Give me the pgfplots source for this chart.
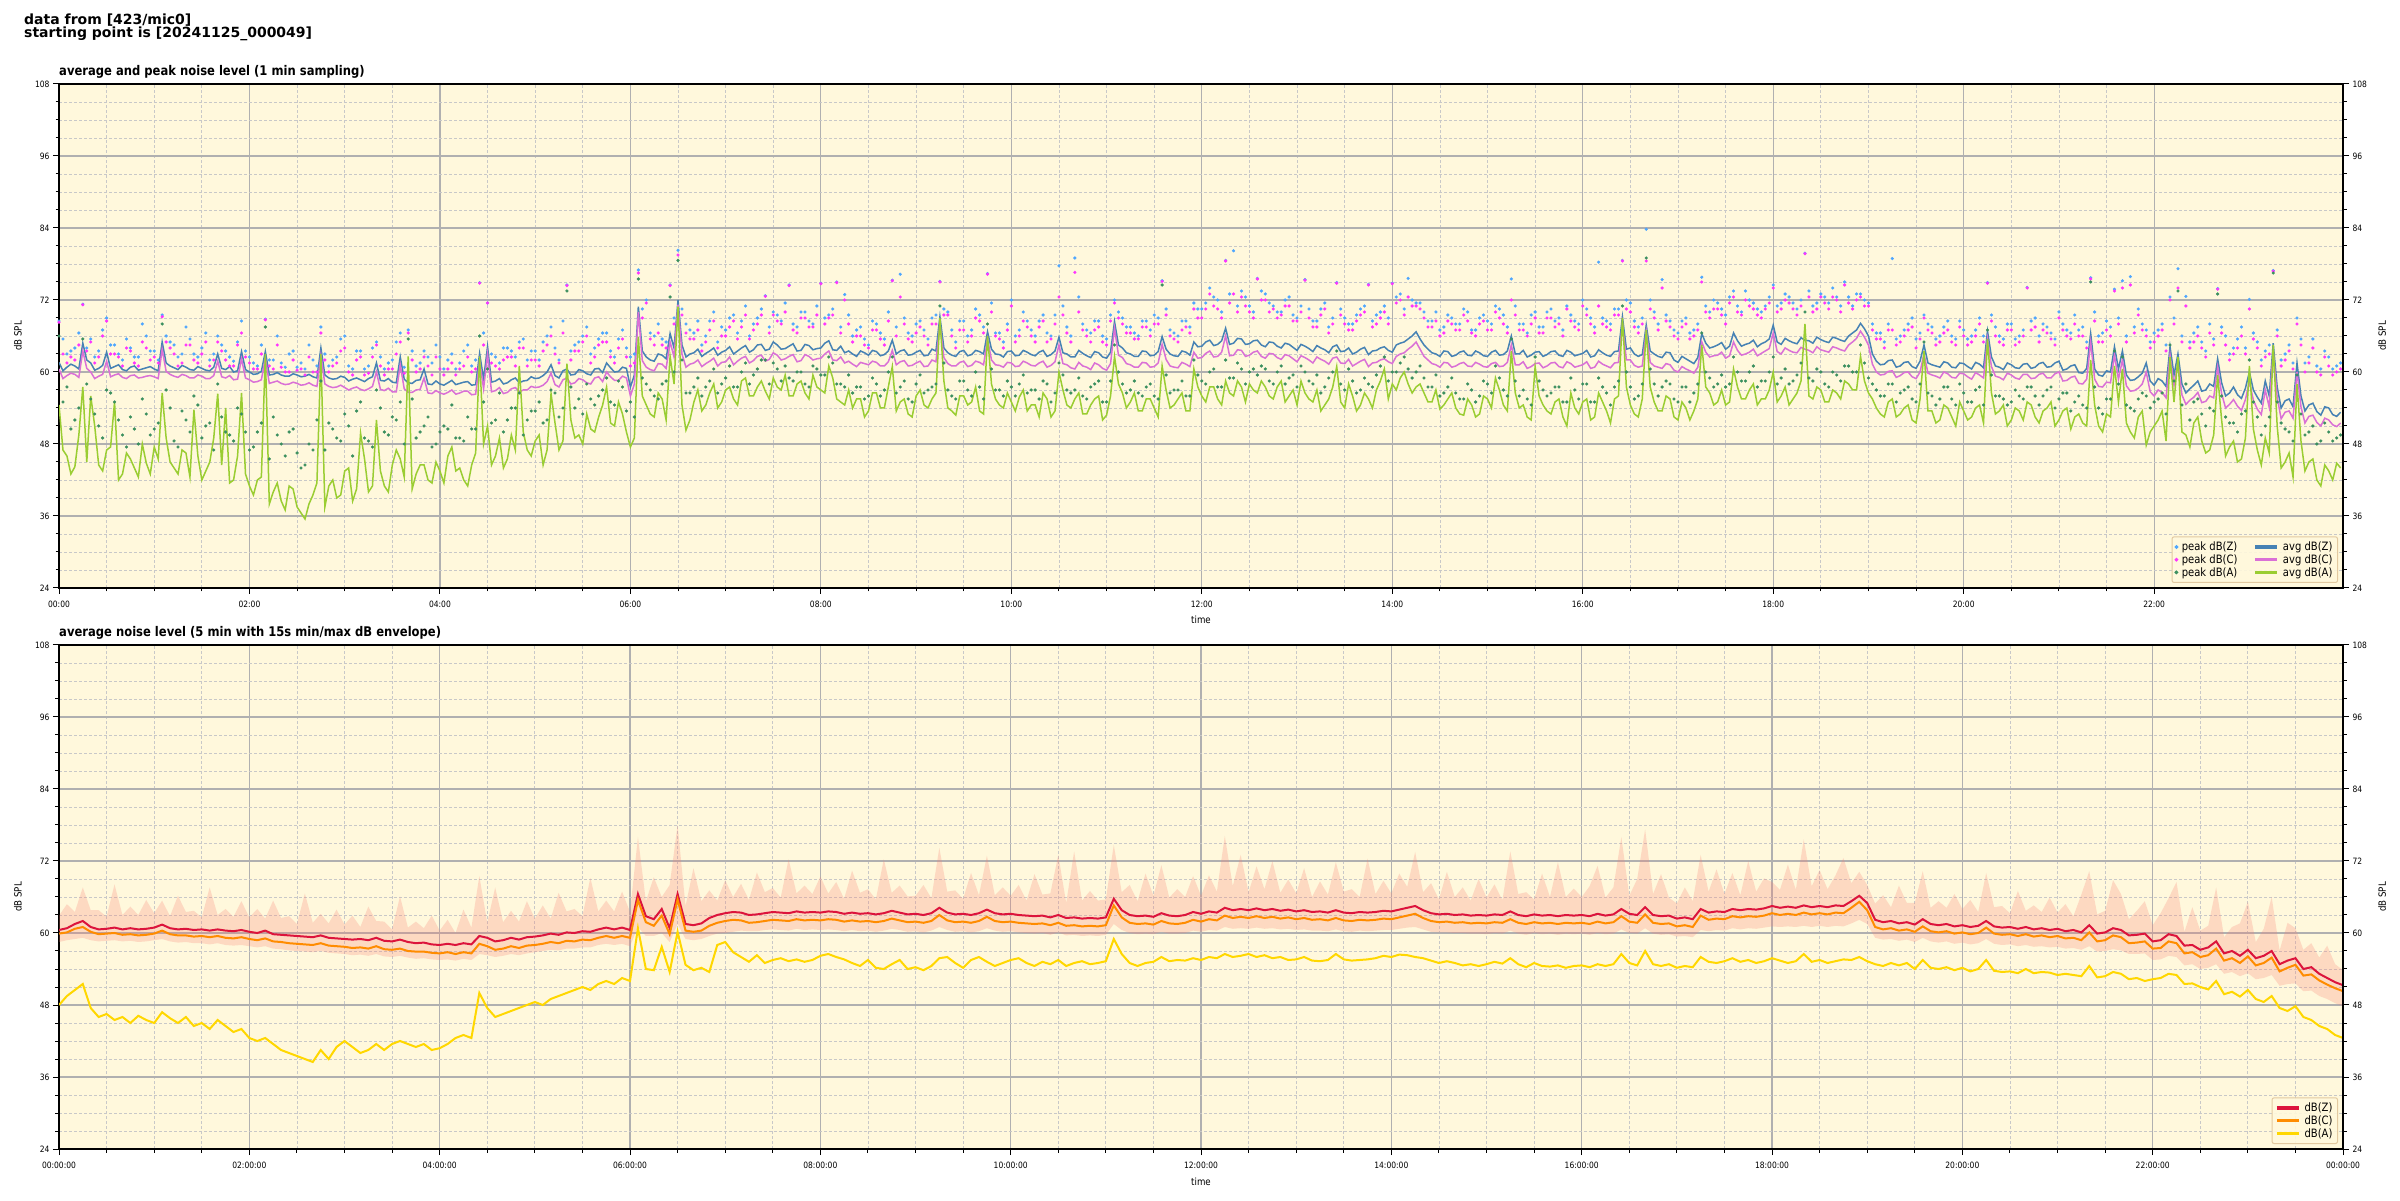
\documentclass[border=0pt]{standalone}
\usepackage{fontspec}
\setmainfont{DejaVu Sans}[FakeStretch=0.87]
\newfontfamily\hdrfont{DejaVu Sans}
\usepackage{pgfplots}
\usepackage{pgfplotstable}
\pgfplotsset{compat=1.18}

\definecolor{bgc}{HTML}{FFF8DC}
\definecolor{zline}{HTML}{4682B4}
\definecolor{cline}{HTML}{DA70D6}
\definecolor{aline}{HTML}{9ACD32}
\definecolor{zdot}{HTML}{4DA6FF}
\definecolor{cdot}{HTML}{FF33FF}
\definecolor{adot}{HTML}{3A8F5E}
\definecolor{zred}{HTML}{DC143C}
\definecolor{corange}{HTML}{FF8C00}
\definecolor{agold}{HTML}{FFD700}
\definecolor{env}{HTML}{FA8072}
\definecolor{majgrid}{HTML}{B0B0B0}
\definecolor{mingrid}{HTML}{C8C8C8}
\definecolor{legedge}{HTML}{E2C9A0}

\newcommand{\fs}[1]{\fontsize{#1}{#1}\selectfont}

\pgfplotstableread{
m Z C A pZ pC pA
0 61.6 60.5 54.5 68.5 68.3 66
5 60.8 59.4 46.0 63.0 61.5 57.5
10 61.0 59.6 44.2 64.0 62.0 52.0
15 64.8 63.5 57.5 71.3 71.2 65.5
20 61.5 60.0 56.0 65.5 65.0 55.5
25 60.6 59.3 44.5 63.5 62.5 51.0
30 63.3 61.8 47.0 69.0 68.5 57.0
35 60.9 59.5 55.0 64.5 63.0 55.0
40 60.4 59.1 43.0 62.0 61.0 49.5
45 60.8 59.4 45.5 64.0 63.5 52.5
50 60.3 59.0 42.5 62.5 61.0 48.0
55 60.7 59.3 44.8 66.0 64.0 53.0
60 60.5 59.2 47.5 63.5 62.5 50.5
65 65.0 63.8 56.5 69.5 69.2 68.0
70 61.0 59.6 45.0 65.0 64.0 54.0
75 60.4 59.1 43.0 62.5 61.0 47.5
80 60.8 59.4 46.5 67.5 64.5 52.0
85 60.3 59.0 53.7 63.0 62.0 56.0
90 60.6 59.3 42.0 64.0 63.0 49.0
95 60.2 58.9 45.0 62.0 61.0 51.5
100 63.0 61.8 56.4 66.0 65.0 58.0
105 60.4 59.0 54.0 63.5 62.0 50.0
110 60.0 58.7 42.0 61.8 61.0 48.5
115 63.4 62.2 56.5 68.5 66.5 53.0
120 60.0 58.7 41.0 62.5 61.5 47.0
125 59.7 58.4 42.0 61.0 60.5 50.0
130 63.4 62.3 63.0 68.8 68.7 67.5
135 59.6 58.3 40.0 62.0 60.5 52.5
140 59.5 58.1 38.5 61.5 60.8 48.0
145 59.3 58.0 41.0 63.0 60.0 50.0
150 59.5 58.1 37.5 60.8 60.3 46.5
155 59.3 57.9 35.5 60.5 59.5 44.5
160 59.2 57.8 39.5 62.0 60.0 47.0
165 64.0 62.8 63.0 67.5 66.5 58.5
170 59.0 57.6 41.0 61.0 60.0 51.5
175 58.9 57.5 39.0 62.5 61.5 49.0
180 59.1 57.4 43.5 66.0 64.0 53.0
185 58.8 57.3 38.5 60.5 59.5 46.0
190 58.7 57.1 49.8 63.5 62.5 55.0
195 58.9 57.2 40.0 61.0 59.8 48.5
200 61.5 60.0 52.0 65.0 64.5 57.0
205 58.5 56.9 41.0 60.5 59.5 50.0
210 58.3 56.7 44.5 62.0 60.5 52.5
215 62.5 61.2 45.5 66.5 65.0 55.0
220 58.2 56.6 62.6 67.0 66.5 65.5
225 58.6 57.0 43.0 61.0 60.0 49.0
230 60.5 59.0 44.5 63.5 62.5 51.0
235 57.9 56.4 41.5 61.5 59.5 47.5
240 58.0 56.5 43.5 62.5 60.5 50.0
245 58.2 56.6 46.0 62.0 60.5 50.5
250 57.9 56.3 43.5 60.5 59.5 49.0
255 58.3 56.8 42.0 63.5 61.0 48.5
260 57.8 56.2 44.5 61.0 60.0 50.5
265 63.1 61.8 62.6 74.9 74.8 66.0
270 64.2 63.0 51.0 71.5 71.5 60.5
275 58.5 56.9 46.0 62.5 61.0 52.0
280 58.0 56.4 44.0 64.0 62.0 50.0
285 58.7 57.2 49.5 63.5 62.5 54.0
290 58.2 56.7 61.0 65.0 64.0 56.5
295 58.6 57.0 47.0 62.0 61.0 52.0
300 58.9 57.4 48.5 63.5 62.0 53.5
305 59.4 57.8 44.5 65.0 63.5 51.5
310 61.2 59.8 56.4 67.5 66.0 57.0
315 59.0 57.5 47.0 62.0 61.5 52.5
320 60.5 59.0 61.4 74.5 74.4 73.5
325 59.6 58.2 49.0 64.5 63.5 54.0
330 60.2 58.7 48.0 66.0 65.0 53.0
335 59.5 58.0 50.5 63.0 61.5 55.5
340 60.6 59.2 52.5 65.5 64.5 56.0
345 61.5 60.0 57.5 66.5 65.0 59.0
350 60.0 58.6 51.0 62.5 61.5 54.5
355 60.8 59.3 53.0 67.0 65.5 57.5
360 57.5 56.0 47.5 62.5 61.0 55.0
365 70.9 70.0 65.9 77.0 76.5 75.5
370 62.5 60.8 54.5 72.0 71.5 58.0
375 61.8 60.2 52.5 66.0 64.5 56.0
380 62.8 61.3 55.5 65.5 64.5 58.0
385 66.4 65.0 62.6 74.5 74.4 72.5
390 72.0 71.2 70.9 80.3 79.5 78.6
395 62.5 60.8 50.3 68.0 66.5 56.5
400 63.2 61.5 55.0 66.5 65.5 57.5
405 62.6 60.9 53.5 64.5 63.5 56.0
410 63.5 61.8 56.5 68.5 67.0 58.5
415 62.8 61.0 54.0 65.0 64.0 56.5
420 63.6 61.7 57.0 67.0 66.0 59.0
425 63.0 61.2 55.5 69.5 68.5 57.5
430 64.0 62.3 58.5 68.5 67.5 60.0
435 63.3 61.5 56.0 66.0 65.5 58.0
440 64.5 62.6 57.5 69.0 68.0 60.5
445 63.6 61.8 56.8 72.7 72.6 62.0
450 65.0 63.2 59.0 70.0 69.5 61.5
455 63.8 62.0 57.0 68.5 68.0 58.5
460 64.3 62.6 56.0 74.5 74.4 59.0
465 63.5 61.7 58.0 67.5 66.5 60.0
470 64.6 62.9 56.5 70.0 69.0 58.0
475 63.7 62.0 59.5 68.0 67.5 61.0
480 64.0 62.3 57.0 74.8 74.7 59.5
485 65.2 63.5 61.0 69.5 69.0 62.5
490 63.6 61.9 55.5 75.0 74.9 58.0
495 63.2 61.5 54.5 72.9 72.0 57.5
500 63.0 61.3 54.0 66.0 65.0 56.5
505 63.5 61.6 55.5 67.5 66.0 57.5
510 62.8 61.2 53.5 64.5 64.0 56.0
515 63.4 61.6 56.5 68.0 67.0 58.0
520 62.9 61.0 54.0 65.5 64.5 57.0
525 65.3 63.6 60.9 75.3 75.2 62.5
530 63.5 61.7 55.0 76.3 72.5 57.5
535 62.8 61.0 53.0 66.5 65.5 55.5
540 63.3 61.5 56.0 68.0 66.5 58.0
545 62.7 60.9 54.5 67.0 66.0 56.5
550 63.8 62.0 55.5 69.0 68.0 57.5
555 69.2 68.0 69.0 75.1 75.0 71.0
560 63.2 61.4 54.0 70.0 69.5 57.0
565 62.6 61.0 52.8 65.0 64.0 55.5
570 63.6 61.8 56.0 68.5 67.0 58.5
575 62.9 61.1 55.0 67.0 66.0 56.0
580 63.4 61.6 53.5 69.5 68.5 57.5
585 66.7 65.5 66.0 76.4 76.3 68.0
590 63.0 61.2 55.5 66.5 66.0 57.0
595 62.5 60.8 54.0 65.0 64.0 56.0
600 63.5 61.5 55.0 72.0 71.0 57.5
605 62.8 61.0 55.8 67.0 66.0 58.0
610 63.3 61.5 53.5 68.5 67.5 56.5
615 62.7 61.0 54.5 66.0 65.0 57.0
620 63.6 61.8 56.5 69.5 68.5 58.5
625 62.9 61.1 52.5 66.0 65.5 55.0
630 65.8 64.5 60.0 77.7 72.5 61.5
635 63.0 61.2 54.5 67.5 66.5 57.0
640 62.5 60.5 55.5 79.0 76.6 57.0
645 63.1 61.0 53.0 68.0 67.0 56.0
650 62.4 60.4 54.5 66.5 65.0 57.5
655 63.2 61.2 56.0 68.5 67.5 58.5
660 62.3 60.3 52.8 65.5 64.5 55.0
665 68.4 67.3 62.6 72.0 71.5 64.5
670 64.0 62.4 56.5 69.0 68.0 58.0
675 63.0 61.2 55.0 67.5 66.5 57.0
680 62.6 60.8 53.5 66.0 65.5 56.5
685 63.4 61.5 55.5 68.5 67.5 57.5
690 62.8 60.9 54.0 69.5 68.0 56.0
695 65.9 64.6 61.0 75.2 75.1 74.5
700 63.0 61.0 54.0 67.0 66.0 56.5
705 62.6 60.7 55.5 66.0 65.0 57.0
710 63.3 61.3 53.5 68.5 67.5 56.0
715 65.0 63.3 60.5 71.5 70.5 62.0
720 64.3 62.4 56.0 70.5 69.0 58.5
725 65.3 63.5 57.5 74.0 73.0 60.0
730 64.6 62.6 55.5 72.0 70.5 57.5
735 67.3 66.0 58.5 78.6 78.5 62.0
740 64.8 62.8 56.0 80.2 73.0 59.0
745 65.5 63.6 57.5 73.5 72.5 60.5
750 64.7 62.8 58.0 71.0 70.0 60.0
755 65.3 63.5 56.5 75.6 75.5 59.5
760 64.2 62.3 57.5 73.0 72.0 60.5
765 64.9 63.0 55.5 71.0 70.5 58.0
770 64.0 62.1 58.5 70.0 69.5 61.0
775 64.6 62.7 56.0 72.5 71.0 59.0
780 63.6 61.7 54.5 69.0 68.5 57.5
785 64.3 62.4 56.5 75.4 75.3 60.0
790 63.4 61.5 55.0 68.5 67.5 58.0
795 64.0 62.1 53.5 70.5 69.5 56.5
800 63.2 61.3 55.5 67.5 66.5 59.0
805 64.5 62.5 60.9 74.9 74.8 63.5
810 63.5 61.4 54.0 69.0 68.0 57.0
815 63.0 61.0 56.0 68.0 67.0 58.5
820 63.8 61.8 54.5 70.5 69.5 57.0
825 62.9 60.9 55.5 74.6 74.5 58.0
830 63.6 61.6 57.0 69.5 68.0 59.5
835 64.2 62.2 60.5 71.0 70.0 62.5
840 63.3 61.4 58.0 74.8 74.7 60.0
845 64.8 63.0 59.0 73.0 72.0 61.5
850 65.5 63.8 58.0 75.6 72.5 60.5
855 66.7 65.0 57.5 71.5 71.0 60.0
860 64.5 62.6 56.5 70.0 69.0 59.0
865 63.2 61.4 55.0 68.5 67.5 57.5
870 62.6 60.8 53.8 67.0 66.0 56.0
875 63.4 61.5 55.5 69.5 68.5 57.5
880 62.8 61.0 54.0 68.0 67.0 56.5
885 63.5 61.6 52.8 70.5 69.5 55.5
890 62.7 60.9 54.5 67.0 66.5 57.0
895 63.2 61.3 53.0 69.0 68.0 56.0
900 62.6 60.8 55.5 68.5 67.0 58.0
905 63.6 61.6 59.0 71.0 70.0 61.0
910 62.9 61.0 54.5 69.5 68.0 57.0
915 66.0 64.5 63.5 75.5 72.0 65.5
920 63.0 61.2 54.0 68.0 67.0 56.0
925 62.5 60.6 52.5 66.5 66.0 55.5
930 63.3 61.4 60.9 70.0 69.0 62.5
935 62.6 60.7 54.5 67.5 66.5 57.0
940 63.4 61.5 53.0 70.5 69.0 56.5
945 62.8 60.9 55.5 69.0 68.0 57.5
950 63.6 61.7 51.0 71.0 70.5 55.0
955 62.7 60.8 54.0 68.5 67.5 57.0
960 63.1 61.2 55.0 72.0 71.0 58.0
965 62.5 60.6 52.0 69.0 68.0 55.0
970 63.7 61.8 56.5 78.3 71.0 59.0
975 62.8 61.0 53.5 68.5 67.5 56.5
980 63.4 61.5 55.5 70.5 69.5 57.5
985 69.2 68.0 69.0 78.6 78.5 71.0
990 64.0 62.0 54.5 71.5 70.0 57.5
995 62.6 60.8 52.5 67.5 66.5 56.0
1000 67.8 66.8 67.0 83.8 78.5 79.0
1005 63.0 61.0 55.0 70.0 69.0 58.0
1010 62.4 60.6 53.5 75.4 74.0 57.5
1015 63.2 61.2 55.5 68.5 67.5 58.0
1020 61.6 60.0 52.0 66.5 65.5 55.0
1025 62.2 60.5 54.0 69.0 68.0 57.5
1030 61.4 59.8 53.5 67.0 66.0 56.5
1035 66.4 65.0 64.5 75.8 75.0 66.5
1040 64.0 62.5 56.5 70.0 69.0 59.0
1045 64.5 62.8 55.0 71.5 70.5 58.0
1050 63.8 62.3 54.5 69.5 68.0 57.5
1055 66.5 65.0 60.5 73.5 72.5 62.5
1060 64.3 62.8 55.5 70.0 69.5 58.5
1065 64.8 63.3 57.0 72.0 71.0 60.0
1070 64.2 62.7 54.5 70.5 69.5 57.5
1075 65.0 63.5 55.5 71.0 70.5 58.5
1080 67.8 66.5 60.0 74.5 74.0 62.5
1085 64.6 63.0 56.0 71.5 70.5 59.0
1090 65.2 63.6 54.5 72.5 71.5 58.0
1095 64.7 63.2 56.5 70.5 69.5 59.5
1100 65.3 63.8 68.0 79.8 79.7 70.0
1105 64.8 63.2 55.5 71.0 70.0 58.5
1110 65.4 63.7 57.0 73.0 72.5 60.0
1115 64.9 63.3 55.0 71.5 70.5 57.5
1120 65.6 64.0 56.5 72.5 72.0 59.5
1125 65.1 63.5 58.5 75.0 74.5 61.0
1130 66.5 65.0 57.0 71.0 70.5 60.0
1135 68.1 66.8 62.6 73.0 72.5 64.5
1140 66.0 64.5 56.5 71.5 71.0 59.0
1145 61.8 60.0 54.0 66.5 65.5 57.0
1150 61.3 59.6 52.5 65.0 64.0 56.0
1155 62.0 60.2 55.5 78.9 67.0 58.0
1160 61.0 59.4 53.0 66.0 65.0 56.5
1165 61.7 60.0 54.5 68.0 67.0 57.5
1170 60.6 58.9 51.5 65.5 64.0 55.0
1175 64.5 63.0 63.5 69.5 69.0 65.0
1180 61.2 59.5 53.5 67.5 66.5 56.0
1185 60.8 59.0 52.0 66.0 65.0 55.5
1190 61.5 59.7 54.0 68.5 67.0 57.5
1195 60.7 59.0 51.0 65.5 64.5 54.5
1200 61.4 59.7 53.5 67.0 66.0 56.5
1205 60.5 58.8 52.5 66.0 65.0 55.0
1210 61.3 59.5 54.5 69.0 68.0 57.5
1215 66.8 65.5 65.5 74.9 74.8 67.0
1220 61.0 59.3 53.0 67.5 66.0 56.0
1225 60.4 58.7 54.5 65.5 64.5 55.5
1230 61.2 59.5 52.0 68.0 67.0 55.0
1235 60.6 58.8 53.5 66.0 65.0 56.0
1240 61.4 59.6 55.0 74.1 74.0 57.5
1245 60.8 59.0 52.5 69.0 67.5 56.0
1250 61.6 59.8 53.5 68.0 67.0 56.0
1255 60.9 59.0 55.0 66.5 65.5 57.5
1260 61.8 60.0 52.0 70.0 69.0 55.5
1265 60.5 58.6 54.0 67.0 66.0 56.5
1270 61.2 59.3 52.5 69.5 68.0 55.0
1275 59.8 58.0 51.5 67.5 66.0 54.5
1280 66.4 65.0 62.0 75.7 75.5 75.0
1285 59.5 57.6 51.0 66.0 65.0 54.0
1290 60.2 58.3 53.0 68.5 67.0 55.5
1295 64.2 62.8 61.0 73.8 73.5 63.5
1300 63.5 62.0 60.5 75.2 74.0 62.5
1305 58.6 56.8 50.0 75.9 74.5 54.0
1310 59.2 57.3 52.5 70.5 69.5 55.5
1315 61.5 60.0 47.8 67.0 66.0 56.0
1320 57.8 56.0 51.0 66.5 65.0 55.0
1325 58.5 56.6 53.5 68.0 67.0 56.5
1330 64.2 62.8 62.5 72.5 72.0 64.5
1335 63.0 61.5 62.5 77.2 74.0 73.5
1340 56.5 54.6 49.5 72.6 71.0 58.0
1345 57.8 55.8 51.5 66.5 65.0 55.0
1350 56.8 54.9 48.5 65.0 64.0 53.0
1355 58.0 56.0 47.0 68.0 66.5 54.0
1360 62.2 60.8 59.5 73.9 73.8 73.0
1365 56.0 54.0 46.0 66.0 64.5 52.5
1370 57.5 55.4 48.5 64.0 63.0 51.5
1375 55.6 53.6 45.5 67.5 66.0 53.0
1380 60.0 58.4 61.0 72.1 70.5 62.0
1385 55.8 53.8 47.0 65.0 64.0 52.5
1390 58.5 57.0 49.0 63.5 62.5 51.0
1395 64.8 63.5 64.5 76.9 76.8 76.5
1400 54.0 52.2 44.0 62.0 61.0 51.5
1405 55.5 53.5 46.5 64.5 63.5 50.0
1410 61.5 60.0 58.0 69.0 68.0 59.5
1415 53.5 51.5 43.5 61.5 60.0 49.5
1420 54.8 52.8 45.5 65.5 64.0 51.0
1425 52.8 51.0 41.0 60.5 59.5 48.5
1430 54.0 52.0 43.5 62.5 61.0 50.0
1435 52.6 50.9 44.8 61.0 60.0 49.0
}\toptab

\pgfplotstableread{
m Z C A pZ pC pA
2.5 60.2 58.9 47.0 65.5 63.0 55.0
7.5 61.3 59.8 43.0 63.5 62.5 50.5
12.5 60.5 59.1 49.5 66.5 64.5 54.0
17.5 62.0 60.6 45.0 64.0 63.5 58.0
22.5 60.3 58.9 51.0 62.5 61.5 53.0
27.5 61.1 59.6 43.5 67.0 66.0 49.0
32.5 60.6 59.2 47.5 64.5 63.0 56.5
37.5 61.2 59.7 42.0 63.0 62.5 52.0
42.5 60.2 58.9 46.5 65.5 64.0 47.5
47.5 61.0 59.5 44.0 62.5 61.5 50.5
52.5 60.5 59.1 48.0 68.0 65.0 55.5
57.5 60.9 59.4 43.0 63.5 62.0 49.5
62.5 60.2 58.9 45.5 62.0 61.5 51.5
67.5 61.5 60.1 49.0 66.0 65.0 57.0
72.5 60.7 59.3 44.0 64.5 63.0 48.5
77.5 61.1 59.6 47.0 63.0 61.5 53.5
82.5 60.4 59.0 42.5 65.5 64.5 50.0
87.5 60.9 59.5 46.0 62.5 61.5 54.5
92.5 60.3 58.9 43.5 66.5 65.0 51.0
97.5 60.8 59.4 49.0 63.0 62.0 47.0
102.5 60.6 59.2 44.5 64.5 63.5 52.5
107.5 60.9 59.4 41.5 62.5 61.0 49.5
112.5 60.2 58.8 46.0 65.0 64.5 54.0
117.5 60.4 59.0 43.0 63.5 62.5 50.0
122.5 59.6 58.3 39.5 61.5 60.5 47.5
127.5 60.1 58.7 42.5 64.5 63.0 51.5
132.5 59.5 58.1 38.0 62.0 61.0 45.5
137.5 59.9 58.5 41.5 66.0 64.5 49.5
142.5 59.3 57.9 37.0 60.8 60.0 46.0
147.5 59.7 58.3 40.5 63.5 62.0 50.5
152.5 59.2 57.8 36.5 61.5 60.5 44.0
157.5 59.6 58.2 38.0 64.5 62.5 48.0
162.5 59.0 57.6 41.5 61.0 60.0 52.0
167.5 59.5 58.0 37.5 63.0 62.0 47.0
172.5 58.8 57.4 42.0 62.0 61.0 50.5
177.5 59.3 57.8 39.5 65.5 63.5 48.5
182.5 58.5 57.0 44.0 61.0 60.0 51.0
187.5 59.0 57.5 40.5 63.5 62.0 53.5
192.5 58.4 56.9 45.5 60.5 59.5 49.0
197.5 59.2 57.6 41.0 64.0 62.5 47.5
202.5 58.6 57.1 43.5 62.5 61.0 54.0
207.5 58.9 57.3 40.0 61.5 60.5 49.5
212.5 58.2 56.7 47.0 65.0 63.0 52.0
217.5 58.8 57.2 42.5 60.8 59.8 48.0
222.5 58.1 56.6 40.5 63.5 62.0 55.5
227.5 58.7 57.1 44.5 61.5 60.5 50.0
232.5 58.0 56.5 42.0 62.5 61.0 52.5
237.5 58.5 56.9 45.0 64.5 62.5 48.0
242.5 57.8 56.3 41.5 60.5 59.5 51.0
247.5 58.6 57.0 47.5 63.0 61.5 54.5
252.5 58.1 56.5 44.0 61.5 60.5 49.0
257.5 58.4 56.8 41.0 64.5 62.5 52.5
262.5 57.9 56.3 46.5 62.0 60.5 50.5
267.5 58.8 57.2 48.0 66.5 64.5 55.0
272.5 58.3 56.7 44.5 63.0 61.5 51.5
277.5 58.9 57.4 49.0 61.5 60.5 56.5
282.5 58.2 56.6 45.5 64.0 62.5 52.0
287.5 59.0 57.4 47.0 62.5 61.0 54.0
292.5 58.5 57.0 50.0 65.5 64.0 49.5
297.5 59.2 57.6 46.0 63.5 62.0 53.5
302.5 59.0 57.5 49.5 62.0 61.0 55.0
307.5 60.0 58.4 47.0 66.0 64.5 52.0
312.5 59.4 57.9 51.5 64.0 63.0 56.5
317.5 60.2 58.7 48.5 68.5 66.5 54.0
322.5 59.5 58.0 52.0 63.5 62.0 57.5
327.5 60.4 58.9 49.5 65.0 63.5 55.5
332.5 59.7 58.2 53.0 67.5 66.0 58.0
337.5 60.5 59.0 50.0 64.0 62.5 54.5
342.5 59.9 58.4 54.5 66.5 65.0 57.0
347.5 60.7 59.2 51.5 63.5 62.5 55.0
352.5 60.1 58.6 55.0 65.5 64.0 58.5
357.5 60.6 59.0 50.0 64.0 62.5 53.5
362.5 59.5 58.0 49.0 63.0 61.5 52.5
367.5 63.5 61.9 56.0 70.5 69.0 59.0
372.5 62.0 60.4 53.0 66.5 65.5 57.0
377.5 63.0 61.4 56.5 68.0 66.5 55.5
382.5 62.2 60.6 52.0 65.0 64.0 58.5
387.5 64.0 62.5 58.0 69.0 68.0 60.0
392.5 64.5 63.0 54.5 70.5 69.5 62.0
397.5 63.0 61.3 52.0 67.0 65.5 56.5
402.5 63.8 62.0 57.0 68.5 67.0 59.0
407.5 63.1 61.4 54.5 66.0 65.0 57.5
412.5 64.0 62.3 58.0 70.0 68.5 60.5
417.5 63.3 61.6 55.0 67.5 66.0 58.0
422.5 64.2 62.5 57.5 69.0 67.5 61.0
427.5 63.5 61.8 54.5 66.5 65.5 57.5
432.5 64.4 62.6 59.0 71.0 69.5 61.5
437.5 63.7 61.9 56.0 68.0 67.0 59.5
442.5 64.6 62.8 58.5 70.5 69.5 62.0
447.5 63.8 62.1 55.5 67.5 66.5 58.0
452.5 64.5 62.8 57.5 69.5 68.5 60.5
457.5 63.9 62.2 59.5 71.5 70.0 61.0
462.5 64.7 62.9 56.0 68.0 67.0 58.5
467.5 63.6 61.9 58.5 70.0 69.0 60.0
472.5 64.4 62.6 55.5 68.5 67.5 57.5
477.5 63.9 62.2 57.5 71.0 69.5 60.5
482.5 64.8 63.0 56.5 69.0 68.0 59.5
487.5 63.7 62.0 59.0 70.5 69.5 61.5
492.5 64.3 62.5 55.0 67.5 66.5 58.0
497.5 63.5 61.8 57.0 69.5 68.0 59.5
502.5 62.6 60.9 55.5 67.0 66.0 57.5
507.5 63.2 61.4 52.5 65.5 64.5 55.5
512.5 63.6 61.8 56.5 68.5 67.0 59.0
517.5 62.7 61.0 54.0 66.5 65.5 56.0
522.5 63.5 61.7 57.5 70.0 68.5 60.0
527.5 63.0 61.2 53.5 67.5 66.0 56.5
532.5 63.7 61.9 55.5 69.0 68.0 58.5
537.5 62.9 61.1 52.5 66.0 65.0 55.0
542.5 63.6 61.8 57.0 68.5 67.5 59.5
547.5 62.8 61.0 54.0 65.5 64.5 57.0
552.5 63.5 61.7 56.5 69.5 68.0 58.0
557.5 64.0 62.4 58.5 70.5 69.5 61.5
562.5 62.8 61.0 53.5 67.0 66.0 56.0
567.5 63.4 61.6 56.0 68.5 67.0 58.5
572.5 62.7 60.9 54.5 66.0 65.0 57.0
577.5 63.6 61.8 57.5 70.5 69.0 60.0
582.5 63.0 61.2 53.0 67.5 66.5 55.5
587.5 63.8 62.0 58.0 71.5 70.0 60.5
592.5 62.9 61.1 54.5 66.5 65.5 57.0
597.5 63.4 61.6 56.5 68.0 67.0 58.5
602.5 62.7 60.9 53.5 66.0 65.0 56.0
607.5 63.6 61.8 57.0 70.0 68.5 59.5
612.5 62.9 61.1 54.5 67.0 66.0 57.0
617.5 63.3 61.5 52.5 68.5 67.5 55.5
622.5 62.6 60.8 55.5 66.5 65.0 58.0
627.5 63.5 61.7 53.5 69.5 68.0 56.5
632.5 63.2 61.4 57.0 71.0 69.5 59.5
637.5 62.5 60.7 54.0 66.0 65.0 56.5
642.5 63.6 61.6 56.5 72.5 70.0 59.0
647.5 62.7 60.8 53.0 67.0 66.0 55.5
652.5 63.4 61.5 55.5 68.5 67.0 58.0
657.5 62.5 60.6 52.0 66.0 65.0 55.0
662.5 63.3 61.4 56.0 69.5 68.5 58.5
667.5 64.5 62.8 58.0 70.0 69.0 60.0
672.5 63.2 61.4 54.0 67.5 66.5 56.5
677.5 62.6 60.8 56.5 66.5 65.5 58.5
682.5 63.5 61.6 53.5 68.5 67.5 56.0
687.5 62.7 60.8 55.5 67.0 66.0 58.0
692.5 63.4 61.5 52.5 69.0 68.0 55.5
697.5 63.8 62.1 57.0 70.5 69.5 59.5
702.5 62.7 60.8 54.5 66.5 65.5 57.0
707.5 63.5 61.6 56.5 68.5 67.0 58.5
712.5 62.8 60.9 53.5 67.5 66.5 56.0
717.5 64.2 62.3 57.5 70.5 69.0 59.5
722.5 65.0 63.1 55.0 71.5 70.5 58.0
727.5 64.4 62.5 57.5 72.5 71.0 60.5
732.5 65.2 63.3 54.5 70.0 69.0 57.5
737.5 64.6 62.7 56.5 73.0 71.5 59.0
742.5 65.6 63.7 58.5 71.0 70.0 61.5
747.5 64.6 62.6 55.0 72.5 71.0 58.0
752.5 65.2 63.3 57.0 70.0 69.0 60.5
757.5 64.5 62.6 58.5 73.5 72.0 61.0
762.5 65.0 63.1 56.0 71.5 70.0 58.5
767.5 64.3 62.4 57.5 70.0 69.0 60.0
772.5 64.8 62.9 55.0 72.0 71.0 58.0
777.5 64.1 62.2 57.0 69.5 68.5 59.5
782.5 64.6 62.7 58.5 71.0 70.0 61.0
787.5 63.9 62.0 55.5 70.5 69.0 58.5
792.5 64.4 62.5 57.0 68.5 67.5 59.5
797.5 63.7 61.8 54.5 71.5 70.5 57.5
802.5 64.2 62.3 57.5 69.0 68.0 60.0
807.5 63.4 61.5 55.0 70.5 69.5 58.0
812.5 64.0 62.1 58.0 68.0 67.0 60.5
817.5 63.3 61.4 53.5 69.5 68.5 56.5
822.5 64.1 62.1 56.5 71.0 70.0 59.0
827.5 63.5 61.5 54.0 68.5 67.5 57.5
832.5 64.0 62.0 58.5 70.0 69.0 61.0
837.5 63.6 61.7 55.5 69.0 68.0 58.5
842.5 64.5 62.6 57.0 72.5 71.5 60.0
847.5 65.0 63.2 60.0 70.5 69.5 62.5
852.5 66.0 64.3 56.5 72.0 71.0 59.0
857.5 65.5 63.8 58.0 71.5 70.5 61.0
862.5 63.8 62.0 55.0 68.5 67.5 57.5
867.5 63.0 61.2 57.0 70.0 68.5 59.5
872.5 63.5 61.6 54.5 67.5 66.5 56.5
877.5 62.6 60.8 56.5 69.0 68.0 59.0
882.5 63.3 61.4 53.0 68.0 67.0 55.5
887.5 62.8 61.0 55.5 70.0 68.5 58.0
892.5 63.5 61.6 52.5 67.0 66.0 55.0
897.5 62.7 60.9 56.0 69.5 68.5 58.5
902.5 63.3 61.4 54.0 68.0 67.0 56.5
907.5 62.8 60.9 57.0 70.5 69.0 59.0
912.5 63.5 61.6 53.5 67.5 66.5 56.0
917.5 63.0 61.2 56.5 71.0 69.5 58.5
922.5 63.6 61.7 54.5 68.0 67.0 57.0
927.5 62.8 60.9 52.0 69.5 68.0 54.5
932.5 63.4 61.5 56.0 67.5 66.5 58.5
937.5 62.9 61.0 53.5 70.0 69.0 56.0
942.5 63.5 61.6 55.0 68.5 67.5 57.5
947.5 62.6 60.7 52.5 67.0 66.0 55.0
952.5 63.3 61.4 56.5 69.5 68.5 59.0
957.5 62.9 61.0 53.0 68.0 67.0 55.5
962.5 63.6 61.7 55.5 70.5 69.5 58.0
967.5 62.7 60.8 52.5 67.5 66.5 55.0
972.5 63.2 61.3 55.0 69.0 68.0 57.5
977.5 62.6 60.7 51.5 68.0 67.0 54.5
982.5 63.5 61.6 56.0 70.5 69.5 58.5
987.5 63.8 62.0 57.5 72.0 70.5 60.0
992.5 63.0 61.1 53.0 68.5 67.5 55.5
997.5 62.9 61.0 55.5 69.0 68.0 58.0
1002.5 63.5 61.6 57.5 72.0 70.5 60.5
1007.5 62.6 60.8 53.5 68.0 67.0 56.0
1012.5 63.3 61.4 56.0 69.5 68.5 58.5
1017.5 62.0 60.3 52.5 67.0 66.0 55.5
1022.5 62.6 60.9 55.0 68.5 67.5 57.5
1027.5 61.8 60.2 52.0 66.5 65.5 55.0
1032.5 62.4 60.8 55.5 68.0 67.0 58.0
1037.5 64.8 63.3 57.5 71.0 70.0 60.0
1042.5 64.2 62.7 54.5 72.0 70.5 57.5
1047.5 64.9 63.3 57.0 70.5 69.5 59.5
1052.5 64.3 62.7 55.0 72.5 71.5 58.0
1057.5 65.2 63.6 57.5 71.0 70.0 60.0
1062.5 64.6 63.0 55.5 73.5 72.0 58.5
1067.5 65.3 63.8 58.0 71.5 70.5 61.0
1072.5 64.7 63.1 55.5 70.0 69.0 58.5
1077.5 65.5 63.9 57.0 72.5 71.5 60.0
1082.5 65.0 63.4 55.0 71.0 70.0 58.0
1087.5 65.6 64.0 57.5 73.0 72.0 60.5
1092.5 64.9 63.3 55.5 71.5 70.5 58.5
1097.5 65.7 64.1 58.5 72.0 71.0 61.5
1102.5 65.2 63.6 56.0 73.5 72.5 59.0
1107.5 65.8 64.2 57.5 71.5 70.5 60.5
1112.5 65.1 63.5 55.0 72.5 71.5 58.0
1117.5 65.8 64.2 57.0 74.0 72.5 60.0
1122.5 65.3 63.7 55.5 71.0 70.0 58.5
1127.5 66.0 64.5 58.0 72.5 71.5 61.0
1132.5 67.0 65.6 57.0 73.0 72.0 60.0
1137.5 67.2 65.8 58.5 72.0 71.0 61.5
1142.5 63.0 61.3 55.5 68.0 67.0 58.0
1147.5 61.2 59.5 53.0 66.5 65.5 56.0
1152.5 61.9 60.1 55.0 68.0 67.0 58.0
1157.5 60.8 59.1 52.5 65.5 64.5 55.0
1162.5 61.6 59.9 54.0 67.0 66.0 57.0
1167.5 60.9 59.2 52.0 69.0 67.5 55.5
1172.5 61.8 60.0 55.5 66.5 65.5 58.0
1177.5 61.5 59.8 53.5 68.0 67.0 56.5
1182.5 61.0 59.3 51.5 65.5 64.5 54.5
1187.5 61.7 60.0 54.5 67.5 66.5 57.5
1192.5 60.8 59.1 52.5 66.0 65.0 55.5
1197.5 61.5 59.8 55.0 68.5 67.5 58.0
1202.5 60.9 59.2 52.0 65.5 64.5 55.0
1207.5 61.6 59.9 54.0 67.0 66.0 57.0
1212.5 60.7 59.0 51.5 66.0 65.0 54.5
1217.5 62.5 60.9 56.5 69.5 68.5 59.5
1222.5 60.8 59.1 53.5 66.0 65.0 56.0
1227.5 61.5 59.8 51.0 68.0 67.0 54.5
1232.5 60.7 59.0 54.0 65.5 64.5 57.0
1237.5 61.3 59.6 52.0 67.0 66.0 55.5
1242.5 60.6 58.9 54.5 68.5 67.0 57.5
1247.5 61.4 59.6 51.5 66.0 65.0 54.5
1252.5 60.8 59.0 54.0 67.5 66.5 57.0
1257.5 61.5 59.7 51.0 65.5 64.5 54.0
1262.5 60.3 58.5 53.5 68.0 67.0 56.5
1267.5 61.0 59.1 50.5 66.5 65.5 53.5
1272.5 59.9 58.1 53.0 67.0 66.0 56.0
1277.5 60.6 58.8 51.0 65.0 64.0 54.0
1282.5 60.5 58.8 54.5 70.0 68.5 57.5
1287.5 59.3 57.5 50.0 66.5 65.0 53.0
1292.5 60.0 58.2 52.5 67.5 66.0 55.5
1297.5 60.5 58.8 55.0 69.0 68.0 58.0
1302.5 59.5 57.7 51.5 66.0 65.0 54.5
1307.5 58.7 56.9 49.0 67.5 66.5 53.5
1312.5 59.8 58.0 53.5 68.0 67.0 56.5
1317.5 58.5 56.7 50.0 65.0 64.0 54.0
1322.5 58.9 57.0 52.0 67.0 66.0 55.5
1327.5 57.6 55.7 48.5 64.5 63.5 53.0
1332.5 59.5 57.8 55.0 69.0 68.0 58.5
1337.5 58.0 56.2 50.0 66.0 65.0 54.5
1342.5 57.2 55.3 47.5 65.0 64.0 52.0
1347.5 58.5 56.6 52.5 67.5 66.0 55.5
1352.5 57.0 55.1 46.5 63.5 62.5 51.0
1357.5 57.6 55.7 49.5 65.5 64.5 53.5
1362.5 58.2 56.4 52.0 67.5 66.5 56.0
1367.5 56.5 54.6 47.5 63.0 62.0 51.5
1372.5 56.2 54.3 45.0 65.5 64.0 50.0
1377.5 57.3 55.4 49.0 64.0 63.0 53.5
1382.5 57.0 55.3 50.5 66.5 65.5 55.0
1387.5 54.8 52.9 44.5 62.0 61.0 49.5
1392.5 56.0 54.1 46.5 64.5 63.0 52.5
1397.5 57.5 55.8 51.0 67.0 66.0 55.0
1402.5 55.2 53.3 45.0 63.0 62.0 50.5
1407.5 54.2 52.3 42.5 61.5 60.5 48.5
1412.5 56.0 54.2 48.5 65.5 64.5 53.0
1417.5 54.5 52.6 45.0 62.5 61.5 50.0
1422.5 53.4 51.6 42.0 61.0 60.0 48.0
1427.5 54.2 52.3 44.5 63.5 62.5 51.5
1432.5 52.9 51.2 42.0 60.5 59.5 48.5
1437.5 53.3 51.5 44.0 61.5 60.5 49.5
}\toptabB

\pgfplotstablevertcat{\toptab}{\toptabB}
\pgfplotstablesort[sort key=m]{\topall}{\toptab}

\pgfplotstableread{
m Z C A lo hi
0 60.5 59.9 48.0 58.5 62.9
5 60.8 60.1 49.5 58.8 64.8
10 61.5 60.7 50.5 59.0 63.5
15 62.0 61.0 51.5 59.2 67.6
20 61.0 60.2 47.5 58.8 63.8
25 60.6 59.8 46.0 58.6 63.8
30 60.7 59.9 46.5 58.7 62.7
35 60.9 60.0 45.5 58.8 68.1
40 60.6 59.7 46.0 58.6 63.0
45 60.8 59.8 45.0 58.7 64.4
50 60.6 59.6 46.2 58.5 63.0
55 60.7 59.7 45.5 58.6 65.5
60 60.9 59.9 45.0 58.8 63.3
65 61.4 60.4 46.8 59.0 65.4
70 60.8 59.8 45.8 58.6 62.8
75 60.6 59.6 45.0 58.4 66.2
80 60.7 59.6 46.0 58.5 63.5
85 60.5 59.4 44.5 58.3 63.7
90 60.6 59.5 45.0 58.3 62.6
95 60.4 59.3 44.0 58.1 67.6
100 60.6 59.5 45.5 58.3 63.0
105 60.4 59.2 44.5 58.0 64.0
110 60.3 59.1 43.5 57.9 62.7
115 60.5 59.3 44.0 58.0 65.3
120 60.2 59.0 42.5 57.8 62.6
125 60.0 58.8 42.0 57.6 64.0
130 60.4 59.1 42.5 57.8 62.4
135 59.8 58.6 41.5 57.4 65.4
140 59.7 58.5 40.5 57.3 62.5
145 59.6 58.3 40.0 57.1 62.8
150 59.5 58.2 39.5 57.0 61.5
155 59.4 58.1 39.0 56.9 66.6
160 59.3 58.0 38.5 56.8 61.7
165 59.6 58.3 40.5 57.0 63.2
170 59.2 57.9 39.0 56.7 61.6
175 59.1 57.8 41.0 56.6 63.9
180 59.0 57.7 42.0 56.5 61.4
185 58.9 57.5 41.0 56.3 62.9
190 59.0 57.6 40.0 56.4 61.0
195 58.8 57.4 40.5 56.2 64.4
200 59.2 57.8 41.5 56.5 62.0
205 58.7 57.3 40.5 56.1 61.9
210 58.6 57.2 41.5 56.0 60.6
215 58.9 57.4 42.0 56.2 66.1
220 58.5 57.0 41.5 55.9 60.9
225 58.3 56.9 41.0 55.7 61.9
230 58.4 56.9 41.5 55.8 60.8
235 58.1 56.7 40.5 55.6 62.9
240 58.0 56.6 40.8 55.5 60.4
245 58.2 56.8 41.5 55.6 62.2
250 58.0 56.5 42.5 55.4 60.0
255 58.3 56.8 43.0 55.7 63.9
260 58.1 56.6 42.5 55.5 60.9
265 59.5 58.2 50.0 56.5 69.5
270 59.2 57.8 47.5 56.3 61.7
275 58.6 57.2 46.0 56.0 67.6
280 58.8 57.4 46.5 56.2 61.8
285 59.2 57.8 47.0 56.5 63.7
290 58.9 57.5 47.5 56.3 61.9
295 59.3 57.9 48.0 56.6 65.3
300 59.4 58.0 48.5 56.8 62.4
305 59.6 58.2 48.0 57.0 64.6
310 59.9 58.5 49.0 57.2 62.4
315 59.7 58.3 49.5 57.1 66.7
320 60.1 58.7 50.0 57.4 63.6
325 60.0 58.6 50.5 57.4 64.0
330 60.3 58.9 51.0 57.6 62.8
335 60.2 58.8 50.5 57.6 69.2
340 60.6 59.2 51.5 58.0 63.6
345 60.9 59.5 52.0 58.2 65.4
350 60.6 59.2 51.5 58.0 63.6
355 60.9 59.5 52.5 58.2 66.9
360 60.5 59.2 52.0 57.8 63.5
365 66.5 65.5 60.8 61.0 76.0
370 62.8 61.8 54.0 59.5 65.3
375 62.3 61.2 53.8 59.5 69.3
380 64.0 62.9 57.7 60.0 66.0
385 60.8 59.8 53.5 58.5 68.0
390 66.5 65.6 60.2 61.5 78.0
395 61.5 60.4 54.7 59.0 64.5
400 61.3 60.2 53.8 58.8 70.8
405 61.6 60.4 54.2 59.0 65.3
410 62.5 61.2 53.5 59.5 67.1
415 63.0 61.7 58.0 59.9 65.4
420 63.3 62.0 58.5 60.0 68.8
425 63.5 62.2 56.8 60.2 66.0
430 63.4 62.1 56.0 60.4 68.2
435 63.0 61.7 55.2 60.3 65.5
440 63.1 61.8 56.3 60.3 70.1
445 63.3 62.0 55.0 60.5 66.8
450 63.5 62.2 55.5 60.6 67.5
455 63.4 62.1 55.8 60.5 65.9
460 63.3 62.0 55.3 60.4 72.3
465 63.6 62.3 55.6 60.7 66.6
470 63.4 62.1 55.2 60.5 67.9
475 63.5 62.2 55.5 60.6 66.5
480 63.4 62.1 56.2 60.5 69.4
485 63.6 62.3 56.5 60.6 66.6
490 63.5 62.2 56.0 60.5 68.5
495 63.2 61.9 55.6 60.3 65.7
500 63.4 62.1 55.0 60.5 70.4
505 63.2 61.9 54.5 60.3 66.7
510 63.3 62.0 55.5 60.4 67.3
515 63.1 61.8 54.2 60.2 65.6
520 63.3 62.0 54.0 60.4 72.3
525 63.7 62.4 54.8 60.7 66.7
530 63.4 62.1 55.5 60.5 67.9
535 63.1 61.8 54.0 60.2 66.1
540 63.2 61.9 54.3 60.3 66.2
545 63.0 61.7 53.8 60.1 68.0
550 63.3 62.0 54.5 60.4 65.8
555 64.2 63.0 55.8 61.0 74.2
560 63.4 62.1 56.0 60.5 66.9
565 63.1 61.8 55.0 60.2 67.1
570 63.2 61.9 54.2 60.3 65.7
575 63.0 61.7 55.5 60.1 70.0
580 63.3 62.0 56.0 60.3 66.3
585 63.9 62.7 55.2 60.8 72.9
590 63.3 62.0 54.5 60.4 66.3
595 63.1 61.8 55.0 60.2 67.6
600 63.2 61.9 55.5 60.3 66.2
605 63.0 61.7 55.8 60.1 68.0
610 62.9 61.6 55.0 60.0 65.4
615 62.8 61.5 54.5 59.9 69.8
620 62.9 61.6 55.2 60.0 66.4
625 62.6 61.3 54.8 59.7 66.6
630 63.0 61.7 55.5 60.1 73.0
635 62.5 61.2 54.5 59.6 65.0
640 62.6 61.3 55.0 59.7 73.6
645 62.4 61.1 55.3 59.5 65.4
650 62.5 61.2 54.8 59.6 67.0
655 62.4 61.1 55.0 59.5 65.4
660 62.6 61.3 55.3 59.7 65.6
665 65.7 64.6 59.0 61.5 74.7
670 63.8 62.6 56.5 60.5 66.8
675 63.0 61.7 55.0 60.0 68.0
680 62.8 61.5 54.5 59.8 65.3
685 62.9 61.6 55.0 59.9 69.9
690 62.7 61.4 55.2 59.8 66.2
695 63.3 62.0 56.0 60.2 71.3
700 62.9 61.6 55.3 59.9 65.9
705 62.8 61.5 55.5 59.9 67.3
710 63.0 61.7 55.4 60.0 66.0
715 63.5 62.2 55.8 60.4 69.5
720 63.2 61.9 55.5 60.2 66.2
725 63.6 62.3 56.0 60.5 69.6
730 63.4 62.1 55.8 60.4 66.9
735 64.2 62.9 56.5 61.0 76.2
740 63.8 62.5 56.0 60.7 67.8
745 64.0 62.7 56.2 60.8 73.0
750 63.8 62.5 56.5 60.7 66.8
755 64.1 62.8 56.0 60.9 71.1
760 63.8 62.5 56.3 60.7 67.3
765 64.0 62.7 55.8 60.8 72.0
770 63.7 62.4 56.0 60.6 66.7
775 63.9 62.6 55.5 60.7 68.9
780 63.6 62.3 55.6 60.5 66.6
785 63.8 62.5 56.0 60.6 70.8
790 63.5 62.2 55.4 60.4 66.0
795 63.6 62.3 55.3 60.4 68.6
800 63.4 62.1 55.5 60.3 66.4
805 63.8 62.5 56.5 60.6 71.8
810 63.4 62.1 55.6 60.3 66.9
815 63.3 62.0 55.4 60.2 67.3
820 63.5 62.2 55.5 60.4 66.0
825 63.4 62.1 55.6 60.3 72.4
830 63.5 62.2 55.8 60.4 66.5
835 63.7 62.4 56.2 60.5 68.7
840 63.6 62.3 56.0 60.5 66.6
845 63.9 62.6 56.4 60.7 69.9
850 64.2 62.9 56.3 60.9 67.7
855 64.5 63.2 56.0 61.0 73.5
860 63.8 62.5 55.8 60.6 66.8
865 63.3 62.0 55.4 60.2 68.3
870 63.1 61.8 55.0 60.1 65.6
875 63.2 61.9 55.3 60.1 70.2
880 63.0 61.7 55.0 60.0 66.0
885 63.1 61.8 54.6 60.0 67.6
890 62.9 61.6 54.8 59.9 65.4
895 63.0 61.7 54.5 59.9 69.0
900 62.9 61.6 54.8 59.8 65.9
905 63.1 61.8 55.2 60.0 68.1
910 63.0 61.7 54.9 59.9 65.5
915 63.6 62.3 55.8 60.4 73.6
920 63.0 61.7 54.8 59.9 66.5
925 62.8 61.5 54.3 59.7 66.8
930 63.1 61.8 55.0 60.0 65.6
935 62.9 61.6 54.5 59.8 69.9
940 63.0 61.7 54.4 59.9 66.0
945 62.8 61.5 54.6 59.7 71.8
950 63.0 61.7 54.2 59.9 66.0
955 62.9 61.6 54.5 59.8 67.4
960 63.0 61.7 54.6 59.9 66.0
965 62.8 61.5 54.3 59.7 67.8
970 63.2 61.9 54.8 60.0 71.2
975 62.9 61.6 54.5 59.8 65.9
980 63.1 61.8 54.8 59.9 67.6
985 64.0 62.8 56.5 60.6 76.0
990 63.2 61.9 55.0 60.0 66.2
995 63.0 61.7 54.6 59.9 69.0
1000 64.3 63.1 57.0 60.8 77.3
1005 63.0 61.7 54.8 59.9 66.5
1010 62.8 61.5 54.5 59.7 69.8
1015 62.9 61.6 54.8 59.8 65.9
1020 62.4 61.1 54.2 59.4 64.9
1025 62.6 61.3 54.5 59.5 67.6
1030 62.3 61.0 54.3 59.3 65.3
1035 64.0 62.9 56.0 60.5 73.0
1040 63.4 62.2 55.2 60.3 66.9
1045 63.6 62.4 55.0 60.5 70.6
1050 63.5 62.3 55.3 60.4 66.5
1055 64.0 62.8 55.8 60.8 70.0
1060 63.8 62.6 55.2 60.6 66.3
1065 64.0 62.8 55.5 60.8 72.0
1070 63.9 62.7 55.0 60.7 66.9
1075 64.1 62.9 55.3 60.9 69.1
1080 64.5 63.3 55.8 61.1 68.5
1085 64.2 63.0 55.4 61.0 67.2
1090 64.4 63.2 55.0 61.1 71.4
1095 64.2 63.0 55.3 61.0 67.2
1100 64.6 63.4 56.5 61.2 75.6
1105 64.3 63.1 55.2 61.0 67.8
1110 64.5 63.3 55.5 61.2 70.5
1115 64.3 63.1 55.0 61.0 67.3
1120 64.6 63.4 55.3 61.2 69.6
1125 64.5 63.3 55.6 61.1 72.5
1130 65.3 64.2 55.5 61.6 68.3
1135 66.2 65.2 56.0 62.2 70.2
1140 65.0 63.8 55.3 61.5 68.0
1145 62.2 61.0 54.8 59.2 64.9
1150 61.8 60.6 54.5 58.9 66.3
1155 62.0 60.8 55.0 59.0 64.3
1160 61.6 60.4 54.6 58.7 67.9
1165 61.8 60.6 55.0 58.9 65.0
1170 61.4 60.2 54.0 58.5 65.0
1175 62.3 61.1 55.5 59.2 70.3
1180 61.5 60.3 54.2 58.6 64.2
1185 61.3 60.1 54.0 58.4 65.3
1190 61.5 60.3 54.3 58.6 64.2
1195 61.1 59.9 53.8 58.2 66.5
1200 61.3 60.1 54.2 58.4 64.0
1205 61.0 59.8 53.6 58.1 65.5
1210 61.2 60.0 54.0 58.3 63.5
1215 62.0 60.9 55.5 59.0 70.0
1220 61.1 59.9 53.7 58.2 64.3
1225 60.9 59.7 53.5 58.0 64.5
1230 61.0 59.8 53.6 58.1 63.3
1235 60.7 59.5 53.3 57.8 67.0
1240 61.0 59.8 54.0 58.0 63.7
1245 60.6 59.4 53.3 57.7 64.6
1250 60.8 59.6 53.5 57.8 63.5
1255 60.5 59.3 53.4 57.6 65.9
1260 60.7 59.5 53.0 57.7 63.4
1265 60.3 59.1 53.2 57.4 64.8
1270 60.5 59.2 53.0 57.5 62.8
1275 60.1 58.8 52.8 57.2 66.4
1280 61.3 60.1 54.5 57.8 70.3
1285 59.9 58.6 52.6 56.9 63.1
1290 60.1 58.8 52.8 57.0 63.7
1295 60.8 59.6 53.5 57.3 68.8
1300 60.5 59.3 53.2 57.1 66.5
1305 59.6 58.3 52.3 56.5 62.3
1310 59.7 58.4 52.5 56.5 63.7
1315 59.9 58.6 52.0 56.6 65.3
1320 58.6 57.4 52.3 55.5 61.3
1325 58.8 57.5 52.5 55.6 63.3
1330 59.8 58.6 53.2 56.2 65.8
1335 59.5 58.3 53.0 56.0 68.5
1340 57.9 56.6 51.5 54.6 60.2
1345 58.0 56.8 51.6 54.8 64.3
1350 57.2 56.0 51.0 54.0 60.4
1355 57.6 56.3 50.6 54.2 61.2
1360 58.6 57.4 52.0 54.8 67.6
1365 56.6 55.4 49.8 53.2 59.3
1370 57.0 55.8 50.2 53.5 61.0
1375 56.2 55.0 49.4 52.8 61.6
1380 57.2 56.1 50.5 53.3 65.2
1385 55.8 54.6 49.0 52.3 58.5
1390 56.2 55.0 48.5 52.5 60.7
1395 57.0 55.9 49.5 53.0 66.0
1400 54.8 53.6 47.5 51.2 57.1
1405 55.4 54.2 47.0 51.5 61.7
1410 55.8 54.7 47.8 51.6 60.8
1415 54.0 52.9 46.0 50.3 57.2
1420 54.3 53.1 45.5 50.4 58.3
1425 53.2 52.1 44.5 49.5 55.9
1430 52.5 51.4 44.0 49.0 57.9
1435 51.8 50.8 43.0 48.3 54.8
1440 51.3 50.3 42.5 47.8 53.8
}\bottab

\pgfplotsset{
  panel/.style={
    scale only axis, width=2284bp, height=504bp,
    ymin=24, ymax=108, ytick={24,36,...,108}, minor y tick num=3,
    minor x tick num=3,
    axis background/.style={fill=bgc},
    grid=both,
    major grid style={majgrid, line width=1.2bp},
    minor grid style={mingrid, line width=0.8bp, dash pattern=on 3bp off 2bp},
    tick align=outside, xtick pos=lower, ytick pos=left,
    major tick length=6bp, minor tick length=3.5bp,
    tick style={black, line width=1bp},
    axis line style={black, line width=1.5bp},
    ticklabel style={font=\fs{8.7bp}},
    xticklabel style={yshift=-4bp},
    /pgf/number format/assume math mode=true,
    label style={font=\fs{13.3bp}},
    ylabel={dB SPL},
    xlabel={time},
    every axis y label/.style={at={(axis description cs:-0.018,0.5)}, rotate=90, anchor=center},
    title style={font=\bfseries\fs{13.3bp}, at={(0,1)}, anchor=base west, yshift=2.5bp, inner sep=0pt},
    legend cell align=left,
    legend style={font=\fs{11.5bp}, fill=bgc, fill opacity=0.9, text opacity=1, draw=legedge, rounded corners=2bp, line width=1bp, at={(1,0)}, anchor=south east, xshift=-5bp, yshift=5bp, inner sep=3bp, row sep=-1.5bp, column sep=2bp, /tikz/every even column/.append style={column sep=14bp}},
    legend image code/.code={\draw[mark repeat=2,mark phase=2,#1] plot coordinates {(0bp,0bp) (11bp,0bp) (22bp,0bp)};},
  },
  rightax/.style={
    scale only axis, width=2284bp, height=504bp,
    ymin=24, ymax=108, ytick={24,36,...,108}, minor y tick num=3,
    xmin=0, xmax=1, axis x line=none, axis y line*=right,
    tick align=outside, major tick length=6bp, minor tick length=3.5bp,
    tick style={black, line width=1bp}, axis line style={black, line width=1.5bp},
    ticklabel style={font=\fs{8.7bp}},
    /pgf/number format/assume math mode=true,
    ylabel={dB SPL}, label style={font=\fs{13.3bp}},
    every axis y label/.style={at={(axis description cs:1.0171,0.5)}, rotate=90, anchor=center},
  },
  pkdots/.style={only marks, mark=*, mark size=1.4bp, color=#1, fill=#1, mark options={draw=none, fill=#1}},
}

\begin{document}
\begin{tikzpicture}[x=1bp,y=1bp]
\useasboundingbox (0,0) rectangle (2400,1200);
\node[anchor=base west, font=\hdrfont\bfseries\fs{14bp}, inner sep=0pt] at (24,1175) {data from [423/mic0]};
\node[anchor=base west, font=\hdrfont\bfseries\fs{14bp}, inner sep=0pt] at (24,1162) {starting point is [20241125\_000049]};

% ---------------- top panel
\begin{axis}[panel, at={(59bp,612bp)}, anchor=south west,
  xmin=0, xmax=1439,
  xtick={0,120,...,1320},
  xticklabels={00:00,02:00,04:00,06:00,08:00,10:00,12:00,14:00,16:00,18:00,20:00,22:00},
  every axis x label/.style={at={(axis description cs:0.5,-0.0635)}, anchor=center},
  title={average and peak noise level (1 min sampling)},
  legend columns=2,
]
\addlegendimage{pkdots=zdot}\addlegendentry{peak dB(Z)}
\addlegendimage{zline, line width=3.5bp}\addlegendentry{avg dB(Z)}
\addlegendimage{pkdots=cdot}\addlegendentry{peak dB(C)}
\addlegendimage{cline, line width=3.5bp}\addlegendentry{avg dB(C)}
\addlegendimage{pkdots=adot}\addlegendentry{peak dB(A)}
\addlegendimage{aline, line width=3.5bp}\addlegendentry{avg dB(A)}
\addplot[pkdots=zdot, forget plot] table[x=m, y=pZ]{\topall};
\addplot[pkdots=cdot, forget plot] table[x=m, y=pC]{\topall};
\addplot[pkdots=adot, forget plot] table[x=m, y=pA]{\topall};
\addplot[zline, line width=1.5bp, forget plot] table[x=m, y=Z]{\topall};
\addplot[cline, line width=1.5bp, forget plot] table[x=m, y=C]{\topall};
\addplot[aline, line width=1.5bp, forget plot] table[x=m, y=A]{\topall};
\end{axis}
\begin{axis}[rightax, at={(59bp,612bp)}, anchor=south west]
\end{axis}

% ---------------- bottom panel
\begin{axis}[panel, at={(59bp,51bp)}, anchor=south west,
  xmin=0, xmax=1440,
  xtick={0,120,...,1440},
  xticklabels={00:00:00,02:00:00,04:00:00,06:00:00,08:00:00,10:00:00,12:00:00,14:00:00,16:00:00,18:00:00,20:00:00,22:00:00,00:00:00},
  every axis x label/.style={at={(axis description cs:0.5,-0.0655)}, anchor=center},
  title={average noise level (5 min with 15s min/max dB envelope)},
]
\addplot[draw=none, stack plots=y, forget plot] table[x=m, y=lo]{\bottab};
\addplot[fill=env, fill opacity=0.25, draw=none, stack plots=y, forget plot] table[x=m, y expr=\thisrow{hi}-\thisrow{lo}]{\bottab} \closedcycle;
\addplot[zred, line width=2bp, forget plot] table[x=m, y=Z]{\bottab};
\addplot[corange, line width=2bp, forget plot] table[x=m, y=C]{\bottab};
\addplot[agold, line width=2bp, forget plot] table[x=m, y=A]{\bottab};
\addlegendimage{zred, line width=3.5bp}\addlegendentry{dB(Z)}
\addlegendimage{corange, line width=3.5bp}\addlegendentry{dB(C)}
\addlegendimage{agold, line width=3.5bp}\addlegendentry{dB(A)}
\end{axis}
\begin{axis}[rightax, at={(59bp,51bp)}, anchor=south west]
\end{axis}
\end{tikzpicture}
\end{document}
